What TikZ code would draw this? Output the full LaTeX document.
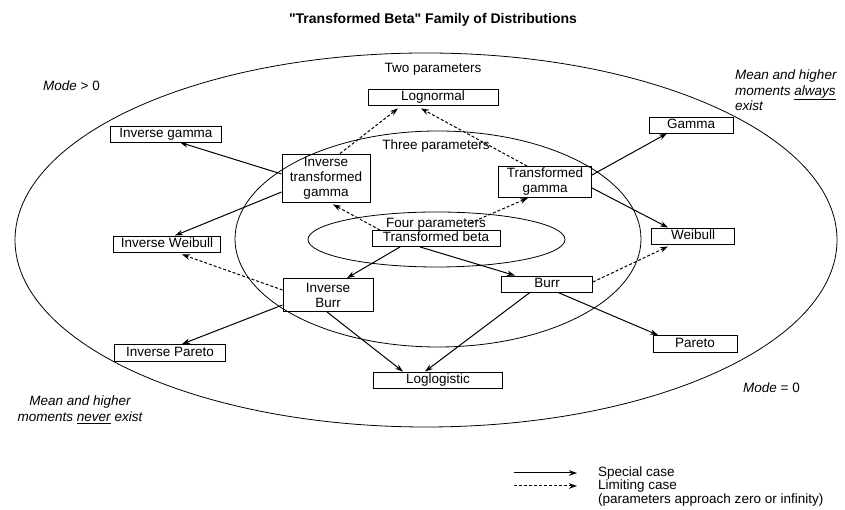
\documentclass[tikz,border=0pt]{standalone}
\usepackage{fontspec}
\setmainfont{Liberation Sans}[Ligatures=TeXOff]
\usetikzlibrary{arrows.meta}

\tikzstyle{block} = [rectangle, draw, line width=0.9pt, align=center, inner sep=1pt, minimum height=16pt, font=\fontsize{13.5}{15}\selectfont]
\tikzstyle{single} = [block, text height=10pt, text depth=3pt]
\tikzstyle{txt} = [inner sep=0pt, font=\fontsize{13.5}{15}\selectfont]
\tikzstyle{note} = [inner sep=0pt, align=left, font=\fontsize{13.5}{15.5}\selectfont\itshape]
\tikzstyle{special} = [->, line width=1pt]
\tikzstyle{limiting} = [->, line width=1pt, dash pattern=on 3pt off 2pt]
\tikzstyle{region} = [line width=0.8pt]

\begin{document}
\begin{tikzpicture}[x=1pt, y=1pt, node distance=2cm, >={Stealth[length=8pt,width=5.5pt]}]
\useasboundingbox (0,0) rectangle (845,510);
\node (Title) [inner sep=0pt, font=\fontsize{14}{16}\selectfont\bfseries] at (433,490) {"Transformed Beta" Family of Distributions};
% Regions
\draw [region] (426,270) ellipse [x radius=411pt, y radius=187pt];
\draw [region] (438,271) ellipse [x radius=203pt, y radius=108pt];
\draw [region] (436.5,270.5) ellipse [x radius=128.5pt, y radius=27.5pt];
% Distributions
\node [single, minimum width=128pt] (TrBeta) at (436,271.5) {Transformed beta};
\node [block, minimum width=88pt, minimum height=48pt] (InvTrGam) at (326,332) {Inverse\\transformed\\gamma};
\node [block, minimum width=93pt, minimum height=31pt] (TrGam) at (545,328) {Transformed\\gamma};
\node [block, minimum width=90pt, minimum height=33pt] (InvBurr) at (328,215) {Inverse\\Burr};
\node [single, minimum width=91pt] (Burr) at (547,226) {Burr};
\node [single, minimum width=130pt] (LogN) at (433,413) {Lognormal};
\node [single, minimum width=111pt] (InvGam) at (166,376) {Inverse gamma};
\node [single, minimum width=84pt] (Gam) at (691,385) {Gamma};
\node [single, minimum width=107pt] (InvWei) at (167,266) {Inverse Weibull};
\node [single, minimum width=83pt] (Wei) at (693,274) {Weibull};
\node [single, minimum width=111pt, minimum height=17pt] (InvPar) at (170,157) {Inverse Pareto};
\node [single, minimum width=84pt, minimum height=17pt] (Par) at (695,166) {Pareto};
\node [single, minimum width=129pt] (LogLog) at (438,130) {Loglogistic};
% Region labels
\node [txt, above of=LogN, node distance=28pt] (TwoPar) {Two parameters};
\node [txt] (ThreePar) at (436,364) {Three parameters};
\node [txt, above of=TrBeta, node distance=14.5pt] (FourPar) {Four parameters};
\node [txt, anchor=west] (ModePos) at (43,424) {\itshape Mode\upshape\ > 0};
\node [txt, anchor=west] (ModeZero) at (743,122) {\itshape Mode\upshape\ = 0};
\node [note, anchor=north west] (Always) at (735,440) {Mean and higher\\moments \underline{always}\\exist};
\node [note, anchor=north, align=center] (Never) at (80,114) {Mean and higher\\moments \underline{never} exist};
% Special cases
\draw [special] ([xshift=-36pt]TrBeta.south) -- ([xshift=19pt]InvBurr.north);
\draw [special] ([xshift=-16pt]TrBeta.south) -- ([xshift=-32pt]Burr.north);
\draw [special] ([yshift=4pt]InvTrGam.west) -- ([xshift=14pt]InvGam.south);
\draw [special] ([yshift=-14pt]InvTrGam.west) -- ([xshift=8pt]InvWei.north);
\draw [special] ([yshift=7pt]TrGam.east) -- ([xshift=-24pt]Gam.south);
\draw [special] ([yshift=-6pt]TrGam.east) -- ([xshift=-25pt]Wei.north);
\draw [special] ([yshift=-10pt]InvBurr.west) -- ([xshift=12pt]InvPar.north);
\draw [special] ([xshift=-1pt]InvBurr.south) -- ([xshift=-35pt]LogLog.north);
\draw [special] ([xshift=-17pt]Burr.south) -- ([xshift=-13pt]LogLog.north);
\draw [special] ([xshift=11pt]Burr.south) -- ([xshift=-37pt]Par.north);
% Limiting cases
\draw [limiting] ([xshift=14pt]InvTrGam.north) -- ([xshift=-35pt,yshift=-3pt]LogN.south);
\draw [limiting] ([xshift=-18pt]TrGam.north) -- ([xshift=-12pt,yshift=-3pt]LogN.south);
\draw [limiting] ([xshift=-56pt]TrBeta.north) -- ([xshift=7pt,yshift=-2pt]InvTrGam.south);
\draw [limiting] ([xshift=34pt,yshift=7pt]TrBeta.north) -- ([xshift=-17pt]TrGam.south);
\draw [limiting] ([yshift=5pt]InvBurr.west) -- ([xshift=15pt,yshift=-2pt]InvWei.south);
\draw [limiting] ([yshift=2pt]Burr.east) -- ([xshift=-25pt,yshift=-2pt]Wei.south);
% Legend
\node [txt, anchor=west] (Special) at (598,37) {Special case};
\node [txt, anchor=west] (Limiting) at (598,24) {Limiting case};
\node [txt, anchor=west] (Approach) at (598,10) {(parameters approach zero or infinity)};
\draw [special] ([xshift=-84pt]Special.west) -- ([xshift=-21pt]Special.west);
\draw [limiting] ([xshift=-84pt]Limiting.west) -- ([xshift=-21pt]Limiting.west);
\end{tikzpicture}
\end{document}
